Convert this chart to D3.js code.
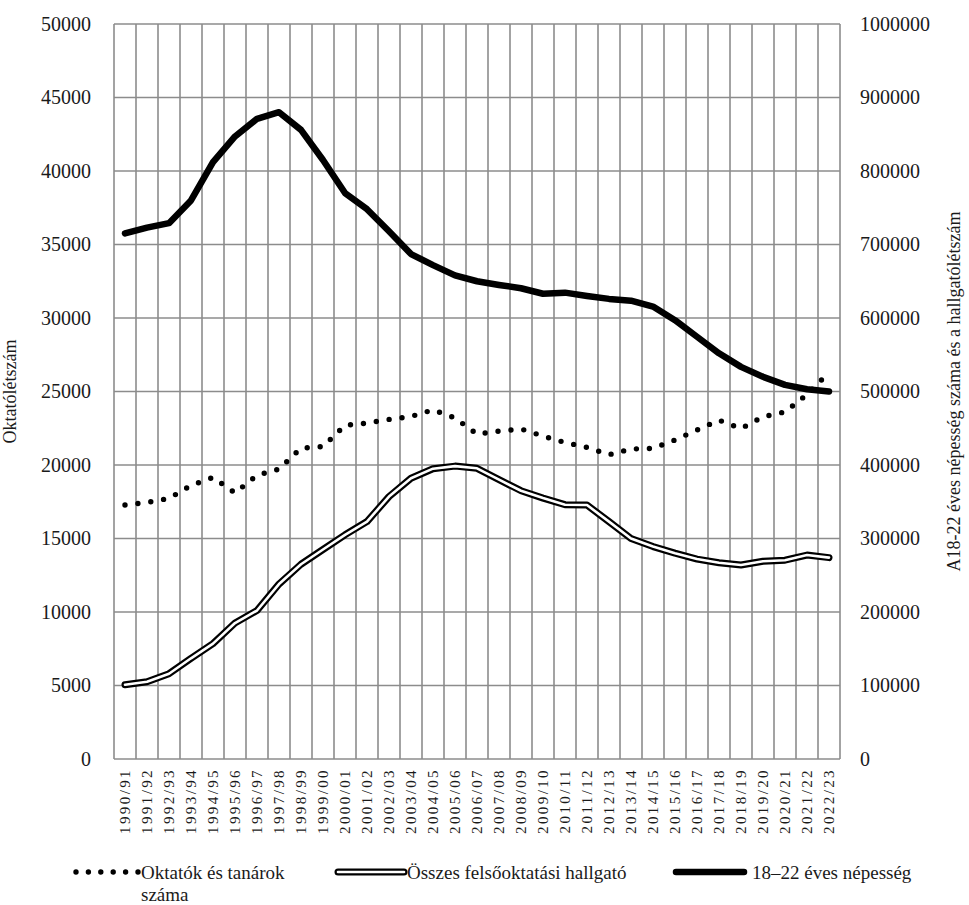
<!DOCTYPE html>
<html>
<head>
<meta charset="utf-8">
<script src="https://cdn.jsdelivr.net/npm/d3@7"></script>
<style>
  body { margin: 0; background: #fff; }
  svg text { font-family: "Liberation Serif", "Times New Roman", serif; fill: #1a1a1a; }
</style>
</head>
<body>
<div id="fig"></div>
<script>
// tanévek
var years = ["1990/91","1991/92","1992/93","1993/94","1994/95","1995/96","1996/97","1997/98","1998/99","1999/00",
  "2000/01","2001/02","2002/03","2003/04","2004/05","2005/06","2006/07","2007/08","2008/09","2009/10",
  "2010/11","2011/12","2012/13","2013/14","2014/15","2015/16","2016/17","2017/18","2018/19","2019/20",
  "2020/21","2021/22","2022/23"];

// Oktatók és tanárok száma (bal tengely)
var teachers = [17280, 17450, 17730, 18610, 19150, 18100, 19300, 19720, 21150, 21250,
  22700, 22850, 23100, 23300, 23750, 23200, 22100, 22300, 22450, 21970,
  21530, 21200, 20700, 21090, 21130, 21700, 22380, 23050, 22480, 23280,
  23610, 24800, 26300];

// Összes felsőoktatási hallgató (jobb tengely)
var students = [101000, 105000, 116000, 137000, 157000, 185000, 202000, 238000, 265000, 285000,
  305000, 323000, 357000, 382000, 395000, 398500, 395500, 380000, 365000, 355000,
  346000, 345500, 323000, 300000, 289000, 280000, 272000, 267000, 264000, 269000,
  270500, 277500, 274000];

// 18-22 éves népesség (jobb tengely)
var population = [715000, 723000, 729000, 760000, 812000, 847000, 871000, 880000, 856000, 815000,
  770000, 748000, 718000, 687000, 672000, 658000, 650000, 645000, 640500, 633000,
  634500, 630000, 626000, 623500, 615500, 597000, 574500, 552000, 533500, 520000,
  509000, 503000, 500000];

var leftTicks = [0, 5000, 10000, 15000, 20000, 25000, 30000, 35000, 40000, 45000, 50000];
var rightTicks = [0, 100000, 200000, 300000, 400000, 500000, 600000, 700000, 800000, 900000, 1000000];

var W = 969, H = 905;
var m = {top: 24, right: 129, bottom: 146, left: 114};
var serif = "'Liberation Serif', 'Times New Roman', serif";

var svg = d3.select("#fig").append("svg")
    .attr("width", W)
    .attr("height", H);

var x = d3.scaleBand().domain(years).range([m.left, W - m.right]).padding(0);
var yL = d3.scaleLinear().domain([0, 50000]).range([H - m.bottom, m.top]);
var yR = d3.scaleLinear().domain([0, 1000000]).range([H - m.bottom, m.top]);
var cx = function(i) { return x(years[i]) + x.bandwidth() / 2; };

// rács
var grid = svg.append("g").attr("stroke", "#8c8c8c").attr("stroke-width", 1.6);
grid.selectAll("line.h").data(leftTicks).enter().append("line")
    .attr("x1", m.left).attr("x2", W - m.right)
    .attr("y1", function(d) { return yL(d); })
    .attr("y2", function(d) { return yL(d); });
var edges = years.map(function(d) { return x(d); }).concat([W - m.right]);
grid.selectAll("line.v").data(edges).enter().append("line")
    .attr("x1", function(d) { return d; }).attr("x2", function(d) { return d; })
    .attr("y1", m.top).attr("y2", H - m.bottom);

// tengelyek
var axL = svg.append("g").attr("transform", "translate(" + m.left + ",0)")
    .call(d3.axisLeft(yL).tickValues(leftTicks).tickSize(0).tickPadding(23).tickFormat(d3.format("d")));
var axR = svg.append("g").attr("transform", "translate(" + (W - m.right) + ",0)")
    .call(d3.axisRight(yR).tickValues(rightTicks).tickSize(0).tickPadding(20).tickFormat(d3.format("d")));
[axL, axR].forEach(function(a) {
  a.attr("font-family", serif).attr("font-size", 20);
  a.select(".domain").remove();
});

var axB = svg.append("g").attr("transform", "translate(0," + (H - m.bottom) + ")")
    .call(d3.axisBottom(x).tickSize(0));
axB.attr("font-family", serif).attr("font-size", 15);
axB.select(".domain").remove();
axB.selectAll("text")
    .style("letter-spacing", "2.4px")
    .attr("text-anchor", "end")
    .attr("transform", "rotate(-90)")
    .attr("x", -9)
    .attr("y", 0)
    .attr("dy", "0.35em");

// tengelycímek
svg.append("text")
    .attr("transform", "translate(16," + ((m.top + H - m.bottom) / 2) + ") rotate(-90)")
    .attr("text-anchor", "middle")
    .style("font-size", "18px")
    .text("Oktatólétszám");
svg.append("text")
    .attr("transform", "translate(960," + ((m.top + H - m.bottom) / 2) + ") rotate(-90)")
    .attr("text-anchor", "middle")
    .style("font-size", "18px")
    .text("A18-22 éves népesség száma és a hallgatólétszám");

// vonalak
var lineL = d3.line().x(function(d, i) { return cx(i); }).y(function(d) { return yL(d); });
var lineR = d3.line().x(function(d, i) { return cx(i); }).y(function(d) { return yR(d); });

svg.append("path").datum(population)
    .attr("d", lineR).attr("fill", "none")
    .attr("stroke", "#000").attr("stroke-width", 6.5)
    .attr("stroke-linejoin", "round").attr("stroke-linecap", "round");

svg.append("path").datum(students)
    .attr("d", lineR).attr("fill", "none")
    .attr("stroke", "#000").attr("stroke-width", 7)
    .attr("stroke-linejoin", "round").attr("stroke-linecap", "round");
svg.append("path").datum(students)
    .attr("d", lineR).attr("fill", "none")
    .attr("stroke", "#fff").attr("stroke-width", 2.6)
    .attr("stroke-linejoin", "round").attr("stroke-linecap", "round");

svg.append("path").datum(teachers)
    .attr("d", lineL).attr("fill", "none")
    .attr("stroke", "#000").attr("stroke-width", 5.4)
    .attr("stroke-dasharray", "0 13")
    .attr("stroke-linecap", "round");

// jelmagyarázat
var ly = 872;
var lg = svg.append("g").style("font-size", "19px");
lg.append("line").attr("x1", 76).attr("x2", 138).attr("y1", ly).attr("y2", ly)
    .attr("stroke", "#000").attr("stroke-width", 5.4)
    .attr("stroke-dasharray", "0 12.4").attr("stroke-linecap", "round");
lg.append("text").attr("x", 141).attr("y", ly).attr("dy", "0.35em").text("Oktatók és tanárok");
lg.append("text").attr("x", 141).attr("y", ly + 22).attr("dy", "0.35em").text("száma");

lg.append("line").attr("x1", 338).attr("x2", 404).attr("y1", ly).attr("y2", ly)
    .attr("stroke", "#000").attr("stroke-width", 7).attr("stroke-linecap", "round");
lg.append("line").attr("x1", 338).attr("x2", 404).attr("y1", ly).attr("y2", ly)
    .attr("stroke", "#fff").attr("stroke-width", 2.6).attr("stroke-linecap", "round");
lg.append("text").attr("x", 407).attr("y", ly).attr("dy", "0.35em").text("Összes felsőoktatási hallgató");

lg.append("line").attr("x1", 676).attr("x2", 744).attr("y1", ly).attr("y2", ly)
    .attr("stroke", "#000").attr("stroke-width", 6.5).attr("stroke-linecap", "round");
lg.append("text").attr("x", 752).attr("y", ly).attr("dy", "0.35em").text("18–22 éves népesség");
</script>
</body>
</html>
